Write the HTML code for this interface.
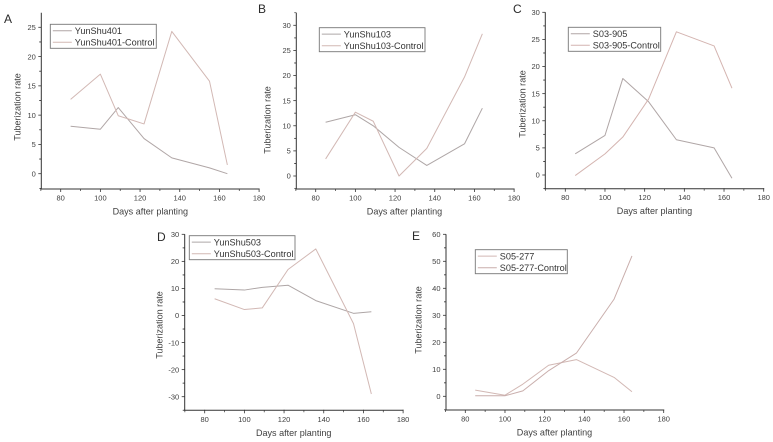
<!DOCTYPE html>
<html lang="en">
<head>
<meta charset="utf-8">
<title>Tuberization rate charts</title>
<style>
html,body{margin:0;padding:0;background:#fff;width:773px;height:442px;overflow:hidden}
svg{display:block;font-family:"Liberation Sans",sans-serif;filter:blur(0.3px)}
</style>
</head>
<body>
<svg id="chart" width="773" height="442" viewBox="0 0 773 442" xmlns="http://www.w3.org/2000/svg"></svg>
<script>
const days = [85, 100, 109, 122, 136, 155, 164];
const xTickLabels = [80, 100, 120, 140, 160, 180];

const seriesNames = ['YunShu401', 'YunShu103', 'S03-905', 'YunShu503', 'S05-277'];
const panelLetters = ['A', 'B', 'C', 'D', 'E'];

const yunShu401 = [8.1, 7.6, 11.3, 6, 2.7, 1, 0];
const yunShu401Control = [12.7, 17, 9.9, 8.5, 24.3, 15.8, 1.5];
const yunShu103 = [10.7, 12.2, 10, 5.7, 2.1, 6.4, 13.5];
const yunShu103Control = [3.4, 12.7, 10.9, 0, 5.5, 19.7, 28.3];
const s03905 = [3.9, 7.3, 17.8, 13.5, 6.5, 5, -0.6];
const s03905Control = [-0.1, 3.9, 7, 14, 26.4, 23.8, 16];
const yunShu503 = [9.9, 9.4, 10.4, 11.2, 5.5, 0.8, 1.4];
const yunShu503Control = [6.2, 2.2, 2.8, 17, 24.6, -3, -29];
const s05277 = [2.3, 0.4, 4.5, 11.5, 13.6, 7, 1.7];
const s05277Control = [0.2, 0.2, 2, 9.5, 16, 36, 52];

const yTicksA = [0, 5, 10, 15, 20, 25];
const yTicksB = [0, 5, 10, 15, 20, 25, 30];
const yTicksC = [0, 5, 10, 15, 20, 25, 30];
const yTicksD = [-30, -20, -10, 0, 10, 20, 30];
const yTicksE = [0, 10, 20, 30, 40, 50, 60];

const layouts = [
  {x80: 60.7, axisX: 41.3, yLo: 0, yLoPx: 173.7, yHi: 25, yHiPx: 27.3, top: 12.7, bottom: 189, lx: 50.3, ly: 24.3, lw: 106, letterX: 4, letterY: 23, titleX: 150.3, labelX: 17.5, labelY: 107, colorA: '#b0a6a6', colorB: '#d2b8b4', values: yunShu401, control: yunShu401Control, ticks: yTicksA},
  {x80: 315.7, axisX: 296.3, yLo: 0, yLoPx: 176, yHi: 30, yHiPx: 25.3, top: 12.7, bottom: 189, lx: 319.3, ly: 27.7, lw: 105.7, letterX: 258, letterY: 13, titleX: 404.5, labelX: 267.3, labelY: 120, colorA: '#aea6a6', colorB: '#d2b8b4', values: yunShu103, control: yunShu103Control, ticks: yTicksB},
  {x80: 565.3, axisX: 545.3, yLo: 0, yLoPx: 175, yHi: 30, yHiPx: 12.3, top: 12.3, bottom: 188.7, lx: 568.3, ly: 27.3, lw: 92.4, letterX: 513, letterY: 13, titleX: 654.5, labelX: 522.3, labelY: 104, colorA: '#b0a6a6', colorB: '#d4b4b0', values: s03905, control: s03905Control, ticks: yTicksC},
  {x80: 204.7, axisX: 184.7, yLo: -30, yLoPx: 396.7, yHi: 30, yHiPx: 234.3, top: 234.3, bottom: 410.3, lx: 189.3, ly: 235.7, lw: 105.7, letterX: 157, letterY: 241, titleX: 293.7, labelX: 159.3, labelY: 325, colorA: '#aea6a6', colorB: '#d2b8b4', values: yunShu503, control: yunShu503Control, ticks: yTicksD},
  {x80: 465.3, axisX: 446, yLo: 0, yLoPx: 396.3, yHi: 60, yHiPx: 234.3, top: 234.3, bottom: 410, lx: 475.3, ly: 249.7, lw: 92, letterX: 412, letterY: 240, titleX: 554.5, labelX: 418.3, labelY: 320, colorA: '#d2b8b4', colorB: '#c9aeac', values: s05277, control: s05277Control, ticks: yTicksE}
];

const NS = 'http://www.w3.org/2000/svg';
const root = document.getElementById('chart');
const PX_PER_DAY = 1.984;
const AXIS_COLOR = '#333333';
const TEXT_COLOR = '#3f3f3f';

function make(tag, attrs, parent, text) {
  const el = document.createElementNS(NS, tag);
  Object.keys(attrs).forEach(function (k) { el.setAttribute(k, attrs[k]); });
  if (text !== undefined) el.textContent = text;
  parent.appendChild(el);
  return el;
}

function drawPanel(layout, index) {
  const name = seriesNames[index];
  const xScale = function (d) { return layout.x80 + (d - 80) * PX_PER_DAY; };
  const yScale = function (v) {
    return layout.yLoPx + (v - layout.yLo) * (layout.yHiPx - layout.yLoPx) / (layout.yHi - layout.yLo);
  };

  const g = make('g', {}, root);
  
  

  const letter = make('text', {x: layout.letterX, y: layout.letterY, 'font-size': 12, fill: '#2a2a2a'}, g, panelLetters[index]);
  
  

  const xEnd = xScale(180);
  const xAxis = make('line', {x1: layout.axisX - 1, x2: xEnd + 0.5, y1: layout.bottom, y2: layout.bottom, stroke: AXIS_COLOR, 'stroke-width': 1}, g);
  
  

  const yAxis = make('line', {x1: layout.axisX, x2: layout.axisX, y1: layout.top, y2: layout.bottom, stroke: AXIS_COLOR, 'stroke-width': 1}, g);
  
  

  xTickLabels.forEach(function (t) {
    const px = xScale(t);
    const tick = make('line', {x1: px, x2: px, y1: layout.bottom - 0.5, y2: layout.bottom + 3, stroke: AXIS_COLOR, 'stroke-width': 0.8}, g);
    
    
    const label = make('text', {x: px, y: layout.bottom + 11.5, 'font-size': 7.5, 'text-anchor': 'middle', fill: TEXT_COLOR}, g, t);
    
    
    const mpx = xScale(t - 10);
    const minor = make('line', {x1: mpx, x2: mpx, y1: layout.bottom, y2: layout.bottom + 2, stroke: AXIS_COLOR, 'stroke-width': 0.7}, g);
    
    
  });

  const step = layout.ticks[1] - layout.ticks[0];
  layout.ticks.forEach(function (t) {
    const py = yScale(t);
    const tick = make('line', {x1: layout.axisX - 3, x2: layout.axisX, y1: py, y2: py, stroke: AXIS_COLOR, 'stroke-width': 0.8}, g);
    
    
    const label = make('text', {x: layout.axisX - 5.5, y: py + 2.7, 'font-size': 7.5, 'text-anchor': 'end', fill: TEXT_COLOR}, g, t);
    
    
    [t - step / 2, t + step / 2].forEach(function (m) {
      const mpy = yScale(m);
      if (mpy < layout.top || mpy > layout.bottom) return;
      const minor = make('line', {x1: layout.axisX - 2, x2: layout.axisX, y1: mpy, y2: mpy, stroke: AXIS_COLOR, 'stroke-width': 0.7}, g);
      
      
    });
  });

  const xTitle = make('text', {x: layout.titleX, y: layout.bottom + 25.5, 'font-size': 9.05, 'text-anchor': 'middle', fill: TEXT_COLOR}, g, 'Days after planting');
  
  

  const yTitle = make('text', {x: 0, y: 0, 'font-size': 9.05, 'text-anchor': 'middle', fill: TEXT_COLOR, transform: 'translate(' + (layout.labelX + 3) + ' ' + layout.labelY + ') rotate(-90)'}, g, 'Tuberization rate');
  
  

  const toPoints = function (values) {
    return values.map(function (v, i) { return xScale(days[i]).toFixed(2) + ',' + yScale(v).toFixed(2); }).join(' ');
  };

  const mainLine = make('polyline', {points: toPoints(layout.values), fill: 'none', stroke: layout.colorA, 'stroke-width': 1, 'stroke-linejoin': 'round'}, g);
  
  

  const controlLine = make('polyline', {points: toPoints(layout.control), fill: 'none', stroke: layout.colorB, 'stroke-width': 1, 'stroke-linejoin': 'round'}, g);
  
  

  const box = make('rect', {x: layout.lx, y: layout.ly, width: layout.lw, height: 24, fill: '#fff', stroke: '#777', 'stroke-width': 0.9}, g);
  
  

  const entries = [
    {label: name, color: layout.colorA, offset: 6.4},
    {label: name + '-Control', color: layout.colorB, offset: 18}
  ];
  entries.forEach(function (entry) {
    const sample = make('line', {x1: layout.lx + 2.5, x2: layout.lx + 21.5, y1: layout.ly + entry.offset, y2: layout.ly + entry.offset, stroke: entry.color, 'stroke-width': 1}, g);
    
    
    const label = make('text', {x: layout.lx + 24.5, y: layout.ly + entry.offset + 3.2, 'font-size': 9.15, fill: '#333'}, g, entry.label);
    
    
  });
}

layouts.forEach(drawPanel);
</script>
</body>
</html>
